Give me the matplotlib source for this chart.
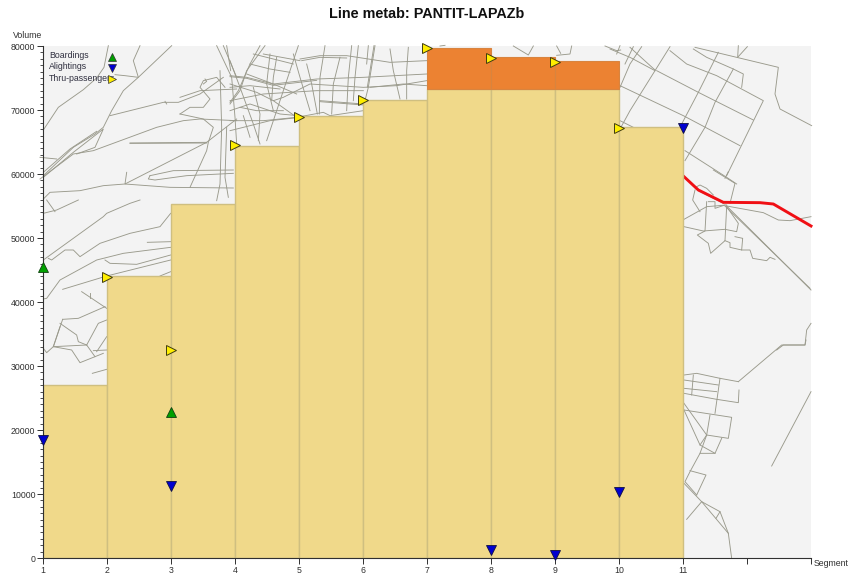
import matplotlib
matplotlib.use('Agg')
import matplotlib.pyplot as plt

plt.rcParams['font.family'] = ['Liberation Sans', 'DejaVu Sans']

segments = [1, 2, 3, 4, 5, 6, 7, 8, 9, 10]
volume = [27000, 44000, 55300, 64400, 69000, 71500, 73300, 73300, 73300, 67300]
top_segments = [7, 8, 9]
top_base = [73300, 73300, 73300]
top_extra = [6400, 5000, 4300]

board_x = [1, 3]
board_y = [45500, 22800]
alight_x = [1, 3, 8, 9, 10, 11]
alight_y = [18500, 11300, 1300, 500, 10300, 67200]
thru_x = [2, 3, 4, 5, 6, 7, 8, 9, 10]
thru_y = [43900, 32500, 64500, 68900, 71500, 79700, 78200, 77500, 67200]

x_ticks = list(range(1, 14))
x_labels = ['1', '2', '3', '4', '5', '6', '7', '8', '9', '10', '11', '', '']
y_ticks = list(range(0, 80001, 10000))

map_traces = [
    ((40, 44), [
        [(10, 258), (55, 190), (130, 137), (170, 102), (192, 70), (205, 5)],
        [(300, 5), (280, 50), (295, 100), (250, 140), (215, 200), (190, 250), (165, 270), (100, 310), (10, 395)],
        [(395, 5), (295, 100), (255, 95), (225, 92)],
        [(10, 400), (100, 325), (190, 255), (165, 310), (110, 330)],
        [(10, 385), (90, 315), (170, 262)],
        [(0, 405), (100, 330), (160, 320), (350, 250), (430, 230), (480, 225), (590, 230)],
        [(210, 215), (370, 175), (415, 175), (480, 150), (550, 100)],
        [(270, 297), (500, 295)],
        [(270, 298), (500, 297)],
        [(420, 210), (450, 190), (490, 190), (510, 165), (480, 130), (490, 110), (530, 100), (555, 130)],
        [(260, 385), (255, 420), (500, 295), (590, 225)],
        [(330, 395), (400, 380), (580, 378)],
        [(330, 395), (325, 405), (345, 408), (440, 395), (580, 388)],
        [(10, 465), (30, 445), (120, 440), (190, 425), (255, 420), (390, 430), (580, 432)],
        [(450, 430), (500, 320), (505, 295), (520, 250), (490, 225), (420, 210)],
        [(530, 5), (575, 100), (585, 220), (590, 300)],
        [(550, 5), (590, 100)],
        [(560, 5), (572, 80)],
        [(0, 340), (50, 345)],
        [(420, 160), (480, 140), (590, 135)],
        [(540, 80), (545, 250), (540, 420), (530, 470)],
        [(560, 250), (555, 400), (565, 460)],
        [(380, 180), (375, 172)],
        [(490, 120), (500, 112), (495, 105)],
    ]),
    ((230, 44), [
        [(0, 95), (50, 100), (130, 120), (260, 105), (400, 100), (590, 90)],
        [(0, 98), (50, 103), (130, 124), (260, 109)],
        [(0, 120), (80, 145), (130, 170), (160, 160), (240, 120), (400, 130), (500, 125), (590, 110)],
        [(210, 45), (270, 35), (350, 35), (480, 55), (590, 50)],
        [(215, 50), (270, 40), (350, 42)],
        [(0, 170), (100, 150), (260, 140), (400, 140)],
        [(0, 230), (100, 230), (200, 220)],
        [(0, 260), (120, 230), (210, 220)],
        [(270, 170), (400, 180)],
        [(270, 173), (400, 183)],
        [(50, 90), (130, 120), (200, 150)],
        [(130, 170), (200, 220), (280, 205), (300, 215), (400, 200)],
        [(105, 5), (50, 80), (30, 140), (0, 180)],
        [(90, 5), (60, 60), (25, 140), (0, 175)],
        [(205, 5), (170, 110), (150, 170), (110, 290)],
        [(190, 30), (210, 100), (240, 200)],
        [(285, 5), (270, 100), (268, 210)],
        [(330, 40), (310, 120), (305, 210)],
        [(365, 5), (355, 100), (350, 200)],
        [(385, 5), (375, 100), (370, 170)],
        [(435, 5), (415, 130), (405, 170)],
        [(432, 5), (412, 130)],
        [(415, 5), (410, 60)],
        [(480, 15), (490, 80), (510, 165)],
        [(535, 10), (530, 80), (530, 165)],
        [(0, 50), (30, 130), (70, 240), (90, 300)],
        [(120, 30), (110, 120), (130, 200)],
        [(70, 30), (190, 60)],
        [(0, 200), (60, 180), (150, 210), (205, 215)],
        [(60, 60), (120, 75), (180, 85)],
        [(420, 130), (520, 120), (590, 125)],
        [(140, 40), (130, 100), (125, 170)],
        [(230, 60), (245, 120), (262, 210)],
        [(100, 30), (210, 50)],
        [(0, 130), (60, 125), (150, 135)],
        [(30, 190), (80, 200), (160, 200)],
        [(70, 130), (90, 210), (85, 290)],
        [(40, 215), (60, 280)],
    ]),
    ((400, 30), [
        [(120, 48), (135, 46)],
        [(340, 48), (385, 75), (400, 48)],
        [(470, 48), (482, 70)],
        [(515, 48), (510, 72), (470, 76)],
        [(615, 48), (650, 62), (662, 60)],
    ]),
    ((610, 44), [
        [(180, 8), (135, 80), (60, 200), (30, 255)],
        [(180, 20), (230, 60), (320, 95), (460, 170), (350, 395)],
        [(325, 25), (265, 145), (215, 240)],
        [(255, 10), (380, 40), (505, 70), (495, 150), (510, 195), (605, 245)],
        [(250, 15), (290, 40), (370, 75), (400, 90), (395, 130)],
        [(385, 5), (383, 40), (412, 8)],
        [(370, 75), (315, 175), (285, 250), (225, 350)],
        [(140, 80), (265, 145), (430, 228)],
        [(30, 125), (220, 215), (390, 305)],
        [(60, 10), (135, 78)],
        [(0, 15), (60, 40), (135, 80)],
        [(225, 320), (350, 400), (380, 420)],
        [(95, 8), (60, 60), (30, 130)],
        [(70, 8), (45, 60)],
        [(30, 5), (20, 30)],
        [(30, 230), (70, 250)],
    ]),
    ((680, 170), [
        [(100, 0), (165, 40), (150, 100)],
        [(145, 5), (135, 25)],
        [(15, 22), (55, 62), (130, 100)],
        [(50, 50), (60, 45), (80, 55), (100, 75)],
        [(45, 60), (38, 90), (60, 125)],
        [(12, 148), (80, 110), (140, 105)],
        [(12, 170), (70, 183), (135, 178), (170, 185), (175, 160), (140, 110)],
        [(80, 95), (75, 183), (52, 195), (85, 220), (92, 250), (135, 212), (140, 108)],
        [(135, 212), (150, 218), (150, 232), (185, 240), (188, 205), (165, 200)],
        [(185, 240), (210, 240), (218, 265), (260, 272), (270, 262), (285, 268)],
        [(140, 108), (250, 128), (295, 150), (330, 152), (393, 140)],
        [(140, 108), (393, 360)],
        [(135, 108), (390, 355)],
        [(393, 460), (380, 480), (375, 525), (310, 525), (290, 540)],
        [(85, 95), (105, 95), (105, 115), (135, 105)],
    ]),
    ((680, 340), [
        [(175, 125), (305, 15), (375, 15), (378, 0)],
        [(12, 105), (50, 100), (120, 115), (175, 125)],
        [(12, 120), (115, 135)],
        [(12, 145), (110, 155)],
        [(12, 160), (110, 178), (175, 188), (177, 150)],
        [(40, 105), (35, 165)],
        [(120, 115), (105, 220)],
        [(12, 210), (155, 232), (145, 295), (80, 285), (60, 340), (105, 340), (125, 295)],
        [(90, 225), (80, 285), (60, 315), (105, 340)],
        [(12, 190), (80, 285)],
        [(12, 210), (60, 315)],
        [(60, 340), (30, 395), (15, 425), (50, 465)],
        [(30, 392), (78, 405), (50, 465)],
        [(12, 430), (65, 485), (145, 580), (155, 655)],
        [(65, 485), (20, 538)],
        [(65, 485), (120, 515), (145, 580)],
        [(120, 515), (108, 535)],
        [(393, 155), (275, 378)],
    ]),
    ((40, 200), [
        [(10, 180), (190, 50), (200, 40), (270, 10), (300, 0)],
        [(10, 40), (50, 30), (115, 0)],
        [(20, 0), (45, 35)],
        [(25, 175), (35, 180), (75, 150), (100, 150), (120, 170), (180, 130), (270, 100), (360, 80), (392, 40)],
        [(10, 297), (20, 295), (60, 240), (170, 180), (250, 160), (392, 142)],
        [(195, 180), (210, 190), (290, 193), (392, 165)],
        [(68, 268), (200, 228), (392, 180)],
        [(322, 127), (392, 125)],
        [(360, 228), (392, 215)],
        [(125, 275), (200, 325)],
        [(150, 280), (150, 295)],
        [(68, 358), (115, 355), (195, 320)],
        [(60, 380), (40, 440), (20, 458), (10, 445)],
        [(68, 358), (40, 440), (95, 450), (120, 488), (190, 460)],
        [(60, 370), (110, 405), (115, 425), (140, 435), (165, 470)],
        [(140, 435), (175, 370), (200, 360)],
        [(160, 452), (200, 450)],
        [(170, 455), (200, 410)],
        [(157, 520), (200, 508)],
        [(40, 440), (140, 435)],
    ]),
]

# red line on the map: crop origin (680, 170), 3x
red_origin = (680, 170)
red_line = [(12, 20), (55, 60), (130, 97), (240, 98), (280, 102), (393, 168)]

fig = plt.figure(figsize=(8.5, 5.73), dpi=100)

# map goes in a pixel-coordinate axes behind the chart
ax_map = fig.add_axes([0, 0, 1, 1], zorder=0)
ax_map.set_xlim(0, 850)
ax_map.set_ylim(573, 0)
ax_map.axis('off')
clip = plt.Rectangle((43, 46), 768, 512, transform=ax_map.transData, fc='#f3f3f3', ec='none')
ax_map.add_patch(clip)
for (ox, oy), lines in map_traces:
    for line in lines:
        xs = [ox + p[0] / 3 for p in line]
        ys = [oy + p[1] / 3 for p in line]
        ax_map.plot(xs, ys, color='#9a9a8c', lw=0.65, solid_joinstyle='round', clip_path=clip)
ax_map.plot([red_origin[0] + p[0] / 3 for p in red_line], [red_origin[1] + p[1] / 3 for p in red_line],
            color='#f00f14', lw=2.1, clip_path=clip)

ax = fig.add_axes([43 / 850, 15 / 573, 768 / 850, 512 / 573], zorder=1)
ax.patch.set_alpha(0)
ax.set_xlim(1, 13)
ax.set_ylim(0, 80000)

ax.bar(segments, volume, width=1, align='edge', color='#f0d98a', edgecolor='#cfbf80', linewidth=1, zorder=2)
ax.bar(top_segments, top_extra, width=1, align='edge', bottom=top_base, color='#ec8232', edgecolor='#d8843f', linewidth=0.8, zorder=2)

ax.plot(board_x, board_y, '^', color='#00a000', mec='#104010', mew=0.6, ms=6.5, ls='none', clip_on=False, zorder=4)
ax.plot(alight_x, alight_y, 'v', color='#0000d0', mec='#101040', mew=0.6, ms=6.5, ls='none', clip_on=False, zorder=4)
ax.plot(thru_x, thru_y, '>', color='#ffee00', mec='#403c10', mew=0.7, ms=6.5, ls='none', clip_on=False, zorder=4)

for sp in ['top', 'right']:
    ax.spines[sp].set_visible(False)
for sp in ['left', 'bottom']:
    ax.spines[sp].set_color('#303030')
    ax.spines[sp].set_linewidth(0.8)

ax.set_xticks(x_ticks)
ax.set_xticklabels(x_labels)
ax.set_yticks(y_ticks)
ax.set_yticks(range(0, 80001, 1000), minor=True)
ax.tick_params(axis='both', which='major', labelsize=6.3, length=4, width=0.7, pad=1.5, colors='#303030')
ax.tick_params(axis='y', which='minor', length=2.2, width=0.6, color='#303030')

# legend, drawn by hand like the original
leg_names = ['Boardings', 'Alightings', 'Thru-passengers']
leg_marks = [('^', '#00a000'), ('v', '#0000d0'), ('>', '#ffee00')]
leg_y = [0.981, 0.959, 0.937]
for name, (m, c), y in zip(leg_names, leg_marks, leg_y):
    ax.text(0.0075, y, name, transform=ax.transAxes, fontsize=6.3, color='#303040', va='center', zorder=5)
    ax.plot([0.0895], [y - 0.002], m, color=c, mec='#303030', mew=0.5, ms=5.5, transform=ax.transAxes, zorder=5)

fig.text(28 / 850, 1 - 35 / 573, 'Volume', fontsize=6.3, color='#303030', ha='center', va='center')
fig.text(831 / 850, 1 - 564 / 573, 'Segment', fontsize=6.3, color='#303030', ha='center', va='center')
fig.text(427 / 850, 1 - 14 / 573, 'Line metab: PANTIT-LAPAZb', fontsize=10.4, fontweight='bold', color='#101010',
         ha='center', va='center')

fig.savefig('out.png', dpi=100)
